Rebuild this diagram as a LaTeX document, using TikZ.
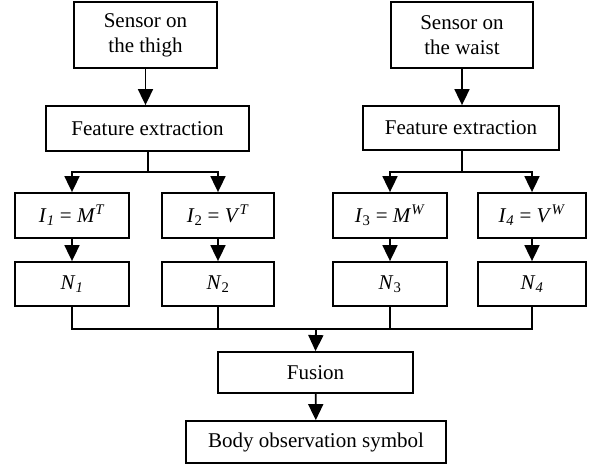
\documentclass[tikz,border=0pt]{standalone}
\usepackage{fontspec}
\setmainfont{Liberation Serif}
\usetikzlibrary{arrows.meta}
\newcommand{\vi}[1]{\textit{#1}}
\begin{document}
\begin{tikzpicture}[x=1pt,y=-1pt,
  box/.style={draw,line width=1.8pt,inner sep=0pt,align=center,font=\fontsize{21}{25}\selectfont},
  conn/.style={line width=1.8pt},
  arr/.style={line width=1.8pt,-{Triangle[width=15pt,length=16pt]}}]
\useasboundingbox (0,0) rectangle (603,465);
\node[box,minimum width=143pt,minimum height=66pt] (s1) at (145.5,35) {Sensor on\\the thigh};
\node[box,minimum width=142pt,minimum height=66pt] (s2) at (462,35) {Sensor on\\the waist};
\node[box,minimum width=203pt,minimum height=45pt] (f1) at (147.5,128.5) {Feature extraction};
\node[box,minimum width=196pt,minimum height=44pt] (f2) at (461,128) {Feature extraction};
\node[box,minimum width=114pt,minimum height=45pt] (i1) at (72,215.5) {\vi{I}\textsubscript{\vi{1}} = \vi{M}\textsuperscript{\vi{T}}};
\node[box,minimum width=112pt,minimum height=45pt] (i2) at (218,215.5) {\vi{I}\textsubscript{2} = \vi{V}\textsuperscript{\vi{T}}};
\node[box,minimum width=114pt,minimum height=45pt] (i3) at (390,215.5) {\vi{I}\textsubscript{3} = \vi{M}\textsuperscript{\vi{W}}};
\node[box,minimum width=108pt,minimum height=45pt] (i4) at (532,215.5) {\vi{I}\textsubscript{\vi{4}} = \vi{V}\textsuperscript{\vi{W}}};
\node[box,minimum width=114pt,minimum height=44pt] (n1) at (72,284) {\vi{N}\textsubscript{\vi{1}}};
\node[box,minimum width=112pt,minimum height=44pt] (n2) at (218,284) {\vi{N}\textsubscript{2}};
\node[box,minimum width=114pt,minimum height=44pt] (n3) at (390,284) {\vi{N}\textsubscript{3}};
\node[box,minimum width=108pt,minimum height=44pt] (n4) at (532,284) {\vi{N}\textsubscript{\vi{4}}};
\node[box,minimum width=195pt,minimum height=41pt] (fu) at (315.5,372.5) {Fusion};
\node[box,minimum width=260pt,minimum height=42pt] (bo) at (316,442) {Body observation symbol};
\coordinate (j1) at (148,172);
\coordinate (j2) at (462,172);
\coordinate (b) at (316,329);
\draw[arr] (s1.south) -- (s1.south |- f1.north);
\draw[arr] (s2.south) -- (s2.south |- f2.north);
\draw[conn] (f1.south -| j1) -- (j1);
\draw[conn] (f2.south -| j2) -- (j2);
\draw[arr] (j1) -| (i1.north);
\draw[arr] (j1) -| (i2.north);
\draw[arr] (j2) -| (i3.north);
\draw[arr] (j2) -| (i4.north);
\draw[arr] (i1) -- (n1);
\draw[arr] (i2) -- (n2);
\draw[arr] (i3) -- (n3);
\draw[arr] (i4) -- (n4);
\draw[conn] (n1.south) -- (n1.south |- b) -- (n4.south |- b) -- (n4.south);
\draw[conn] (n2.south) -- (n2.south |- b);
\draw[conn] (n3.south) -- (n3.south |- b);
\draw[arr] (b) -- (fu.north);
\draw[arr] (fu) -- (bo);
\end{tikzpicture}
\end{document}
